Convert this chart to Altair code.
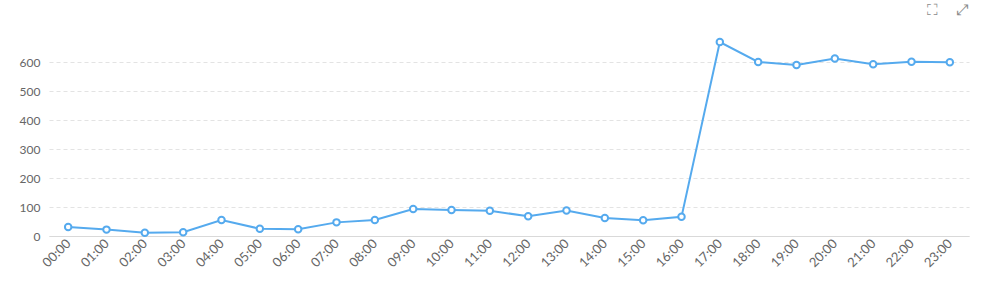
import altair as alt
import pandas as pd

hours = ["00:00", "01:00", "02:00", "03:00", "04:00", "05:00", "06:00", "07:00",
         "08:00", "09:00", "10:00", "11:00", "12:00", "13:00", "14:00", "15:00",
         "16:00", "17:00", "18:00", "19:00", "20:00", "21:00", "22:00", "23:00"]
values = [31, 22, 11, 13, 55, 25, 23, 47, 55, 93, 90, 87,
          68, 88, 62, 54, 66, 669, 600, 590, 612, 592, 601, 599]
y_ticks = [0, 100, 200, 300, 400, 500, 600]
icons = ["⛶", "⤢"]

df = pd.DataFrame({"hour": hours, "value": values})

LINE = "#55aaee"

x = alt.X("hour:N", sort=hours, title=None,
          scale=alt.Scale(type="point", padding=0.5),
          axis=alt.Axis(labelAngle=-45, labelAlign="right", labelBaseline="middle",
                        labelFont="Lato", labelFontSize=13, labelColor="#666666",
                        labelPadding=5, ticks=False, domain=True, domainColor="#d9d9d9",
                        domainWidth=1, grid=False, labelOverlap=False))
y = alt.Y("value:Q", title=None,
          scale=alt.Scale(domain=[0, 669], nice=False, zero=True),
          axis=alt.Axis(values=y_ticks, labelFont="Lato", labelFontSize=12,
                        labelColor="#666666", labelPadding=9, ticks=False,
                        domain=False, grid=True, gridColor="#e3e3e3",
                        gridDash=[4, 3], gridWidth=1))

line = alt.Chart(df).mark_line(color=LINE, strokeWidth=2).encode(x=x, y=y)
pts = alt.Chart(df).mark_point(filled=True, fill="white", stroke=LINE, strokeWidth=2,
                               size=42, opacity=1).encode(x=x, y=y)

icon1 = alt.Chart(pd.DataFrame({"t": [icons[0]]})).mark_text(
    fontSize=15, color="#8a8a8a", font="DejaVu Sans", baseline="middle"
).encode(text="t:N", x=alt.value(883), y=alt.value(-32))
icon2 = alt.Chart(pd.DataFrame({"t": [icons[1]]})).mark_text(
    fontSize=15, color="#8a8a8a", font="DejaVu Sans", baseline="middle"
).encode(text="t:N", x=alt.value(913), y=alt.value(-32))

chart = (line + pts + icon1 + icon2).properties(
    width=920, height=194,
    autosize=alt.AutoSizeParams(type="none"),
    padding={"left": 49, "top": 42, "right": 24, "bottom": 66},
    background="white",
).configure_view(stroke=None)

chart.save("out.html", embed_options={"renderer": "svg", "actions": False})
